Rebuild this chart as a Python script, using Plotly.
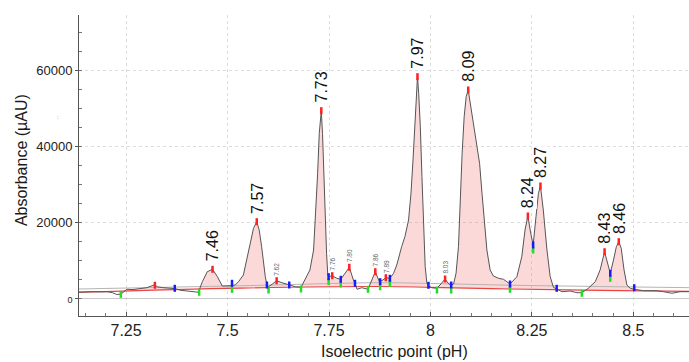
import numpy as np
import plotly.graph_objects as go

# ---------------- data ----------------
trace_ph = [7.134, 7.151, 7.169, 7.186, 7.202, 7.216, 7.227, 7.237, 7.252, 7.267, 7.284, 7.301, 7.319, 7.328,
            7.342, 7.356, 7.371, 7.385, 7.400, 7.415, 7.428, 7.438, 7.450, 7.463, 7.475, 7.487, 7.500, 7.511,
            7.520, 7.527, 7.539, 7.547, 7.556, 7.564, 7.572, 7.578, 7.584, 7.588, 7.593, 7.597, 7.601, 7.611,
            7.621, 7.634, 7.652, 7.667, 7.681, 7.691, 7.703, 7.712, 7.717, 7.722, 7.726, 7.731, 7.734, 7.737,
            7.740, 7.744, 7.747, 7.749, 7.758, 7.769, 7.779, 7.790, 7.800, 7.810, 7.814, 7.819, 7.831, 7.846,
            7.856, 7.864, 7.874, 7.883, 7.890, 7.900, 7.909, 7.917, 7.929, 7.937, 7.946, 7.952, 7.957, 7.961,
            7.965, 7.968, 7.971, 7.975, 7.979, 7.983, 7.987, 7.991, 7.995, 8.003, 8.016, 8.026, 8.036, 8.045,
            8.051, 8.057, 8.063, 8.069, 8.073, 8.078, 8.083, 8.088, 8.093, 8.098, 8.106, 8.114, 8.121, 8.127,
            8.132, 8.139, 8.147, 8.155, 8.168, 8.180, 8.188, 8.196, 8.213, 8.225, 8.233, 8.240, 8.247, 8.253,
            8.260, 8.266, 8.271, 8.278, 8.287, 8.295, 8.303, 8.311, 8.324, 8.344, 8.361, 8.373, 8.389, 8.406,
            8.418, 8.429, 8.436, 8.443, 8.451, 8.458, 8.464, 8.470, 8.477, 8.484, 8.492, 8.502, 8.525, 8.558,
            8.574, 8.595, 8.615, 8.637]
trace_abs = [1600, 1700, 1740, 1700, 1740, 1500, 1000, 1100, 2370, 2300, 2450, 2790, 3500, 3000,
             2790, 2700, 2550, 2100, 1900, 1800, 1600, 4370, 7000, 7630, 5690, 3240, 3200, 3300,
             3600, 4370, 6130, 10080, 14470, 18420, 20160, 17970, 13580, 9210, 5690, 3500, 3050, 3800,
             4630, 4100, 3500, 3050, 2900, 4820, 7450, 12710, 21470, 32890, 43420, 49370, 43420, 32890,
             21470, 11840, 6130, 5690, 5950, 5260, 5000, 6800, 8160, 4820, 3950, 2370, 2790, 2370,
             4820, 7000, 4370, 4820, 5420, 5260, 6580, 8760, 13580, 16210, 20600, 27630, 36400, 45160,
             53950, 58320, 53950, 45160, 32000, 18840, 8320, 4100, 3240, 2790, 2630, 3800, 5080, 3800,
             3500, 3760, 6580, 13580, 25000, 38160, 47790, 53050, 54820, 51320, 45160, 39900, 35530, 27630,
             20600, 12710, 7450, 5870, 5260, 5000, 4370, 3760, 5690, 10950, 17970, 21660, 17100, 14030,
             21470, 27630, 29550, 23240, 12710, 5690, 2890, 2370, 1740, 1920, 1470, 1470, 2630, 4370,
             7450, 12260, 9210, 6580, 10080, 13580, 14900, 13160, 7450, 3500, 2630, 2370, 2000, 2000,
             1740, 1320, 1740, 1740]

baseline_ph = [7.134, 7.531, 7.876, 8.0, 8.197, 8.418, 8.637]
baseline_red = [1600, 2700, 3100, 2900, 2450, 2100, 1800]
baseline_gray = [2450, 3300, 4100, 3900, 3450, 3100, 2800]

peak_ph = [7.463, 7.572, 7.621, 7.731, 7.758, 7.800, 7.864, 7.890, 7.968, 8.036, 8.093, 8.240, 8.271, 8.429, 8.464]
peak_abs = [7630, 20160, 4630, 49370, 5950, 8160, 7000, 5420, 58320, 5080, 54820, 21660, 29550, 12260, 14900]
peak_labels = ["7.46", "7.57", "7.62", "7.73", "7.76", "7.80", "7.86", "7.89", "7.97", "8.03", "8.09",
               "8.24", "8.27", "8.43", "8.46"]
minor_labels = ["7.62", "7.76", "7.80", "7.86", "7.89", "8.03"]

red_ph = [7.321] + peak_ph
red_abs = [3420] + peak_abs

blue_ph = [7.370, 7.511, 7.597, 7.652, 7.749, 7.779, 7.814, 7.876, 7.900, 7.995, 8.051, 8.196, 8.253, 8.311, 8.443, 8.502]
blue_abs = [2630, 3950, 3500, 3500, 5690, 5000, 3950, 4370, 5260, 3420, 3500, 3760, 14030, 2630, 6580, 2790]

green_ph = [7.237, 7.430, 7.511, 7.601, 7.681, 7.749, 7.779, 7.846, 7.876, 7.900, 8.016, 8.051, 8.196, 8.253, 8.373, 8.443]
green_abs = [1050, 1580, 2370, 2180, 2450, 4370, 3760, 2370, 3050, 3950, 2180, 2180, 2370, 12710, 1320, 5260]

window_start = [7.237, 7.430, 7.511, 7.601, 7.681, 7.749, 7.779, 7.846, 7.876, 7.900, 8.016, 8.051, 8.196, 8.253, 8.373, 8.443]
window_end = [7.370, 7.511, 7.597, 7.652, 7.749, 7.779, 7.814, 7.876, 7.900, 7.995, 8.051, 8.196, 8.253, 8.311, 8.443, 8.502]

x_ticks = [7.25, 7.5, 7.75, 8, 8.25, 8.5]
x_ticktext = ["7.25", "7.5", "7.75", "8", "8.25", "8.5"]
y_ticks = [0, 20000, 40000, 60000]
y_ticktext = ["<span style='font-size:9px'>0</span>", "20000", "40000", "60000"]

# ---------------- figure ----------------
FONT = "Liberation Sans, Arial, sans-serif"
tx = np.array(trace_ph)
ty = np.array(trace_abs)

fig = go.Figure()

# integration fills
for a, b in zip(window_start, window_end):
    inside = (tx > a) & (tx < b)
    xs = np.concatenate([[a], tx[inside], [b]])
    ys = np.interp(xs, tx, ty)
    bx = np.array([b, a])
    by = np.interp(bx, baseline_ph, baseline_red)
    fig.add_trace(go.Scatter(
        x=np.concatenate([xs, bx]), y=np.concatenate([ys, by]),
        fill="toself", fillcolor="rgba(240,120,120,0.28)",
        line=dict(width=0), mode="lines", hoverinfo="skip", showlegend=False))

# baselines
fig.add_trace(go.Scatter(x=baseline_ph, y=baseline_gray, mode="lines", line=dict(color="#b4b4b4", width=1),
                         line_shape="spline", showlegend=False))
fig.add_trace(go.Scatter(x=baseline_ph, y=baseline_red, mode="lines", line=dict(color="#e84545", width=1.2),
                         line_shape="spline", showlegend=False))

# trace
fig.add_trace(go.Scatter(x=trace_ph, y=trace_abs, mode="lines", line=dict(color="#555555", width=1),
                         showlegend=False))

# markers
for xs, ys, col in [(green_ph, green_abs, "#22dd22"), (blue_ph, blue_abs, "#1a1aff"), (red_ph, red_abs, "#ff2020")]:
    fig.add_trace(go.Scatter(x=xs, y=ys, mode="markers", showlegend=False,
                             marker=dict(symbol="line-ns", size=5, line=dict(width=2.5, color=col))))

# peak labels
for px_, py_, lab in zip(peak_ph, peak_abs, peak_labels):
    small = lab in minor_labels
    fig.add_annotation(x=px_, y=py_, xref="x", yref="y", text=lab, showarrow=False,
                       textangle=-90, xanchor="center", yanchor="bottom",
                       yshift=4 if small else 7,
                       font=dict(family=FONT, size=6.5 if small else 16, color="#666" if small else "#111"),
                       bgcolor="white", borderpad=0)

# axis titles
fig.add_annotation(text="Absorbance (µAU)", xref="paper", yref="paper", x=-0.0951, y=0.518,
                   textangle=-90, showarrow=False, xanchor="center", yanchor="middle",
                   font=dict(family=FONT, size=16, color="#1a1a1a"))
fig.add_annotation(text="Isoelectric point (pH)", xref="paper", yref="paper", x=0.5164, y=-0.1196,
                   showarrow=False, xanchor="center", yanchor="middle",
                   font=dict(family=FONT, size=16, color="#1a1a1a"))
fig.add_annotation(text=":", xref="paper", yref="paper", x=(55 - 79) / 610, y=(316 - 117) / 301,
                   showarrow=False, font=dict(family=FONT, size=6, color="#556"))

fig.update_layout(
    width=689, height=362,
    margin=dict(l=79, r=0, t=15, b=46),
    paper_bgcolor="white", plot_bgcolor="white",
    font=dict(family=FONT, color="#222"),
)
fig.update_xaxes(
    range=[7.134, 8.637], tickvals=x_ticks, ticktext=x_ticktext,
    tickfont=dict(size=16, color="#222"),
    showline=True, linecolor="#555", linewidth=1,
    ticks="inside", ticklen=4, tickcolor="#555",
    showgrid=True, gridcolor="#dcdcdc", griddash="dot", gridwidth=1,
    minor=dict(dtick=0.05, ticks="inside", ticklen=3, tickcolor="#777", showgrid=False),
    zeroline=False,
)
fig.update_yaxes(
    range=[-4658, 74553], tickvals=y_ticks, ticktext=y_ticktext,
    tickfont=dict(size=13, color="#222"),
    showline=True, linecolor="#555", linewidth=1,
    ticks="outside", ticklen=3, tickcolor="#555",
    showgrid=True, gridcolor="#dcdcdc", griddash="dot", gridwidth=1,
    minor=dict(dtick=5000, ticks="inside", ticklen=3, tickcolor="#777", showgrid=False),
    zeroline=True, zerolinecolor="#c8c8c8", zerolinewidth=1,
)

fig.write_html("out.html")
